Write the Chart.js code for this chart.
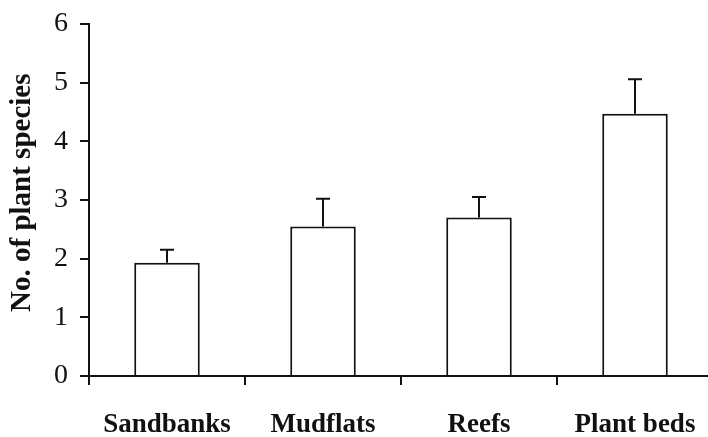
<!DOCTYPE html>
<html>
<head>
<meta charset="utf-8">
<script src="https://cdn.jsdelivr.net/npm/chart.js@4.4.0/dist/chart.umd.min.js"></script>
<style>
  html, body { margin: 0; padding: 0; background: #fff; overflow: hidden; width: 708px; height: 437px; }
  canvas { display: block; }
</style>
</head>
<body>
<canvas id="myChart" width="713" height="437"></canvas>
<script>
// data
var habitats = ['Sandbanks', 'Mudflats', 'Reefs', 'Plant beds'];
var meanSpecies = [1.93, 2.55, 2.70, 4.47];
var errSpecies = [0.22, 0.47, 0.35, 0.59];
var yTicks = [0, 1, 2, 3, 4, 5, 6];

var serif = '"Liberation Serif", "Times New Roman", serif';
var ink = '#111';

// upper error bars with a small cap
var errorBars = {
    id: 'errorBars',
    afterDatasetsDraw: function (chart) {
        var ctx = chart.ctx;
        var yScale = chart.scales.y;
        var meta = chart.getDatasetMeta(0);
        ctx.save();
        ctx.strokeStyle = ink;
        ctx.lineWidth = 2;
        meta.data.forEach(function (bar, i) {
            var yTop = yScale.getPixelForValue(meanSpecies[i] + errSpecies[i]);
            ctx.beginPath();
            ctx.moveTo(bar.x, bar.y);
            ctx.lineTo(bar.x, yTop);
            ctx.moveTo(bar.x - 7, yTop);
            ctx.lineTo(bar.x + 7, yTop);
            ctx.stroke();
        });
        ctx.restore();
    }
};

var area = document.getElementById('myChart');
new Chart(area, {
    type: 'bar',
    data: {
        labels: habitats,
        datasets: [{
            data: meanSpecies,
            backgroundColor: '#fff',
            borderColor: ink,
            borderWidth: 2,
            categoryPercentage: 1,
            barPercentage: 0.42
        }]
    },
    options: {
        responsive: false,
        animation: false,
        layout: { padding: { top: 24, right: 0, bottom: 0, left: 0 } },
        plugins: {
            legend: { display: false },
            tooltip: { enabled: false }
        },
        scales: {
            x: {
                afterFit: function (scale) {
                    scale.height = 61;
                    scale.paddingLeft = 0;
                    scale.paddingRight = 0;
                },
                border: { color: ink, width: 2 },
                grid: { drawOnChartArea: false, color: ink, lineWidth: 2, tickLength: 9 },
                ticks: {
                    color: ink,
                    padding: 24,
                    font: { family: serif, size: 27, weight: 'bold' }
                }
            },
            y: {
                min: 0,
                max: 6,
                afterFit: function (scale) {
                    scale.width = 89;
                    scale.paddingTop = 0;
                    scale.paddingBottom = 0;
                },
                afterBuildTicks: function (scale) {
                    scale.ticks = yTicks.map(function (v) { return { value: v }; });
                },
                border: { color: ink, width: 2 },
                grid: { drawOnChartArea: false, color: ink, lineWidth: 2, tickLength: 9 },
                ticks: {
                    color: ink,
                    padding: 12,
                    font: { family: serif, size: 28 }
                },
                title: {
                    display: true,
                    text: '  No. of plant species',
                    color: ink,
                    padding: { top: 5, bottom: 0 },
                    font: { family: serif, size: 29, weight: 'bold' }
                }
            }
        }
    },
    plugins: [errorBars]
});
</script>
</body>
</html>
